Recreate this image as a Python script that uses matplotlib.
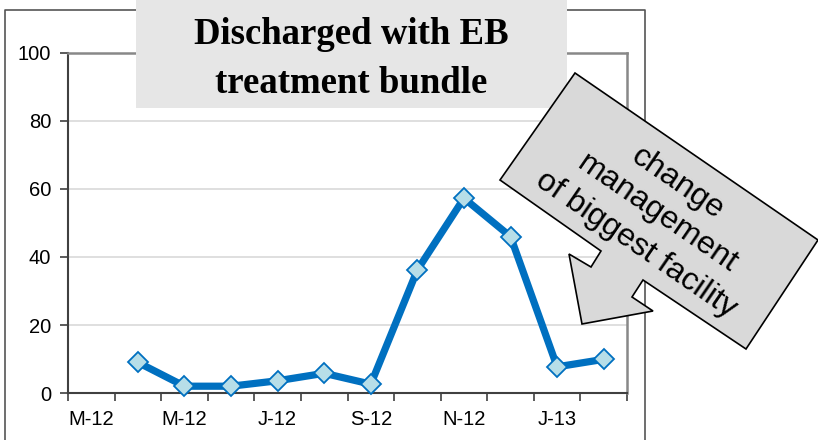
import matplotlib.pyplot as plt
import matplotlib.patches as patches
import numpy as np

# monthly categories (Mar-12 .. Feb-13), first month has no value
months = ["M-12", "A-12", "M-12", "J-12", "J-12", "A-12",
          "S-12", "O-12", "N-12", "D-12", "J-13", "F-13"]
discharged = [np.nan, 9, 2, 2, 3.6, 5.8, 2.6, 36.2, 57.3, 46.0, 7.7, 9.9]
y_ticks = [0, 20, 40, 60, 80, 100]

W, H = 818, 440
fig = plt.figure(figsize=(W / 100, H / 100), dpi=100)
fig.patch.set_facecolor("white")

ax = fig.add_axes([68 / W, 1 - 393 / H, (627 - 68) / W, (393 - 53) / H])
x = np.arange(len(months))
ax.plot(x, discharged, color="#0070C0", lw=5.2, marker="D", markersize=10.5,
        markerfacecolor="#B7DEE8", markeredgecolor="#0070C0",
        markeredgewidth=1.3, zorder=3, clip_on=False)

ax.set_xlim(-0.5, len(months) - 0.5)
ax.set_ylim(0, 100)
ax.set_yticks(y_ticks)
ax.set_xticks(x[::2])
ax.set_xticklabels(months[::2])
ax.set_xticks(np.arange(len(months) + 1) - 0.5, minor=True)
ax.tick_params(axis="x", which="major", length=0, pad=12, labelsize=14.5)
ax.tick_params(axis="x", which="minor", length=6, color="#404040", width=1.2)
ax.tick_params(axis="y", length=6, color="#404040", width=1.2, pad=6,
               labelsize=14.5)
for lab in ax.get_xticklabels() + ax.get_yticklabels():
    lab.set_family("Liberation Sans")

ax.grid(axis="y", color="#d9d9d9", lw=1.2)
ax.set_axisbelow(True)
for side in ["left", "bottom"]:
    ax.spines[side].set_color("#404040")
    ax.spines[side].set_linewidth(1.5)
for side in ["top", "right"]:
    ax.spines[side].set_color("#888888")
    ax.spines[side].set_linewidth(1.8)

# overlay in pixel coordinates for frame, title box and arrow callout
ov = fig.add_axes([0, 0, 1, 1], zorder=5)
ov.set_xlim(0, W)
ov.set_ylim(H, 0)
ov.axis("off")
ov.patch.set_alpha(0)

ov.plot([5, 5, 645, 645], [H + 5, 10, 10, H + 5], color="#555555", lw=1.2,
        clip_on=False, zorder=1)

ov.add_patch(patches.Rectangle((136, -2), 431, 110, facecolor="#e6e6e6",
                               edgecolor="none", zorder=2))
ov.text(351, 59, "Discharged with EB\ntreatment bundle", ha="center",
        va="center", fontsize=26.5, fontweight="bold",
        family="Liberation Serif", linespacing=1.5, zorder=3)

arrow_pts = [(500, 180), (575, 73), (818, 240), (746, 349), (643, 280),
             (632, 297), (653, 311), (582, 324), (569, 254), (591, 267),
             (601, 251)]
ov.add_patch(patches.Polygon(arrow_pts, closed=True, facecolor="#d9d9d9",
                             edgecolor="black", lw=1.2, clip_on=False,
                             zorder=4))
ov.text(657, 214, "change\nmanagement\nof biggest facility", ha="center",
        va="center", rotation=-34.5, rotation_mode="anchor", fontsize=23,
        family="Liberation Sans", linespacing=1.3, zorder=5)

fig.savefig("out.png", dpi=100)
